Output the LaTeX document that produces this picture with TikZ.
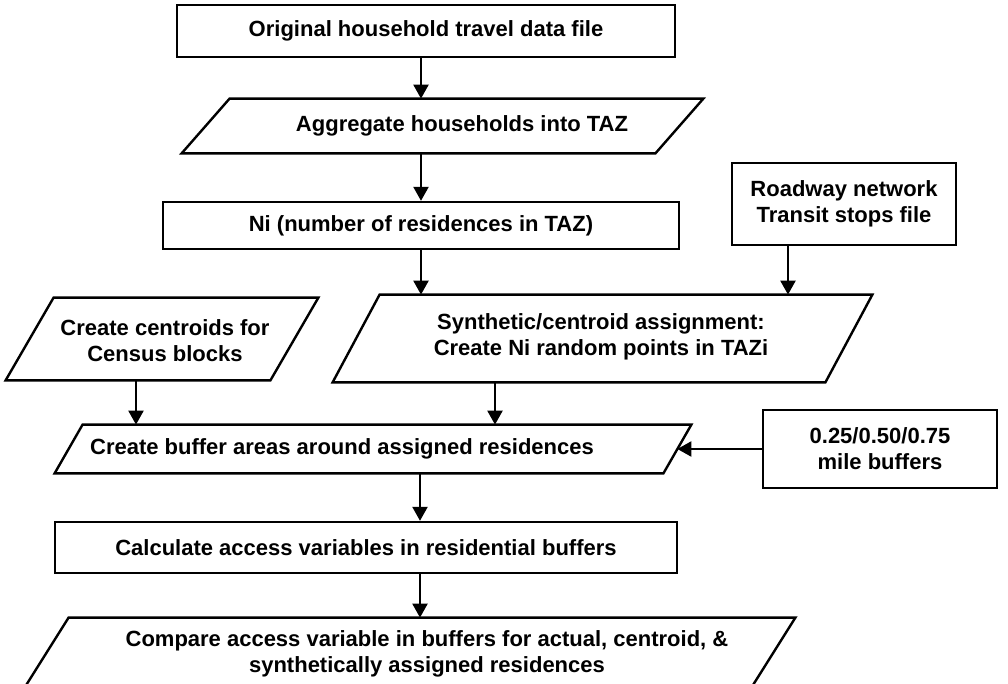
\documentclass[tikz,border=0pt]{standalone}
\usepackage{fontspec}
\setmainfont{Liberation Sans}
\usetikzlibrary{arrows.meta,calc}
\newcommand{\pgramdraw}[2]{\draw[ln] (#1.south west) -- ($(#1.north west)+(#2,0)$) -- (#1.north east) -- ($(#1.south east)-(#2,0)$) -- cycle;}
\begin{document}
\begin{tikzpicture}[x=0.5pt,y=-0.5pt,
  ln/.style={line width=1.2pt},
  fnt/.style={font=\bfseries\fontsize{11}{13}\selectfont},
  box/.style={draw,ln,rectangle,inner sep=0pt,align=center,fnt},
  pbox/.style={rectangle,inner sep=0pt},
  txt/.style={inner sep=0pt,align=center,fnt},
  arr/.style={ln,-{Triangle[length=7pt,width=7.5pt]}}]
\useasboundingbox (0,0) rectangle (1008,684);
\fill[white] (0,0) rectangle (1008,684);

% nodes
\node[box,minimum width=249pt,minimum height=26pt] (orig) at (426,31) {Original household travel data file};

\node[pbox,minimum width=260.5pt,minimum height=27pt] (agg) at (442.5,126) {};
\pgramdraw{agg}{48}
\node[txt] (aggT) at (462,126) {Aggregate households into TAZ};

\node[box,minimum width=258pt,minimum height=23.5pt] (ni) at (421,225.5) {Ni (number of residences in TAZ)};

\node[box,minimum width=112pt,minimum height=41pt] (road) at (844,204) {Roadway network\\Transit stops file};

\node[pbox,minimum width=269.5pt,minimum height=43.5pt] (syn) at (602.5,338.5) {};
\pgramdraw{syn}{47}
\node[txt] (synT) at (601,337) {Synthetic/centroid assignment:\\Create Ni random points in TAZi};

\node[pbox,minimum width=156pt,minimum height=41pt] (cen) at (162,339) {};
\pgramdraw{cen}{48}
\node[txt] (cenT) at (165,341) {Create centroids for\\Census blocks};

\node[pbox,minimum width=318pt,minimum height=24pt] (buf) at (373,449) {};
\pgramdraw{buf}{28}
\node[txt] (bufT) at (342,449) {Create buffer areas around assigned residences};

\node[box,minimum width=117pt,minimum height=39pt] (mb) at (880,449) {0.25/0.50/0.75\\mile buffers};

\node[box,minimum width=311pt,minimum height=25.5pt] (calc) at (366,547.5) {Calculate access variables in residential buffers};

\node[pbox,minimum width=384pt,minimum height=33pt] (cmp) at (411,651) {};
\draw[ln] (cmp.south west) -- ($(cmp.north west)+(42,0)$) -- (cmp.north east) -- ($(cmp.south east)-(42,0)$);
\node[txt] (cmpT) at (427,654) {Compare access variable in buffers for actual, centroid, \&\\synthetically assigned residences};

% connector x positions
\coordinate (c1) at (421,0);
\coordinate (c2) at (788,0);
\coordinate (c3) at (136,0);
\coordinate (c4) at (495,0);
\coordinate (c5) at (420,0);
\coordinate (bufE) at ($(buf.east)-(14,0)$);

\draw[arr] (orig.south -| c1) -- (agg.north -| c1);
\draw[arr] (agg.south -| c1) -- (ni.north -| c1);
\draw[arr] (ni.south -| c1) -- (syn.north -| c1);
\draw[arr] (road.south -| c2) -- (syn.north -| c2);
\draw[arr] (cen.south -| c3) -- (buf.north -| c3);
\draw[arr] (syn.south -| c4) -- (buf.north -| c4);
\draw[arr] (mb.west) -- (bufE);
\draw[arr] (buf.south -| c5) -- (calc.north -| c5);
\draw[arr] (calc.south -| c5) -- (cmp.north -| c5);
\end{tikzpicture}
\end{document}
